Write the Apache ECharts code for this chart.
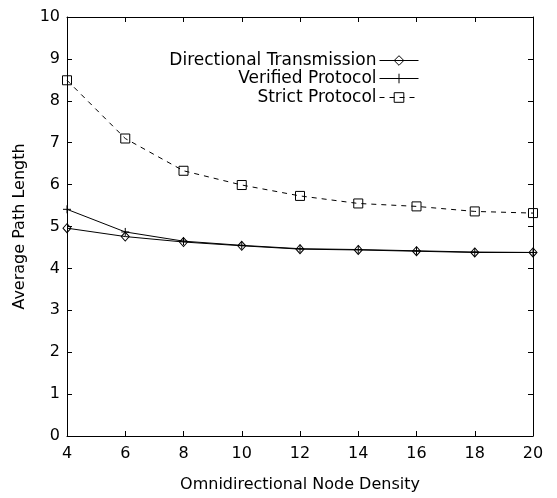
<!DOCTYPE html>
<html><head><meta charset="utf-8">
<script src="https://cdn.jsdelivr.net/npm/echarts@6/dist/echarts.min.js"></script>
<style>html,body{margin:0;padding:0;background:#fff}#c{width:557px;height:498px}</style>
</head><body><div id="c"></div>
<script>
var xValues = [4, 6, 8, 10, 12, 14, 16, 18, 20];
var directional = [4.96, 4.76, 4.63, 4.54, 4.46, 4.44, 4.41, 4.38, 4.38];
var verified = [5.41, 4.87, 4.65, 4.55, 4.47, 4.45, 4.42, 4.39, 4.38];
var strict = [8.49, 7.10, 6.33, 5.99, 5.73, 5.55, 5.48, 5.36, 5.32];
var seriesNames = ['Directional Transmission', 'Verified Protocol', 'Strict Protocol'];
var xTitle = 'Omnidirectional Node Density';
var yTitle = 'Average Path Length';

function pairs(ys){ return xValues.map(function(x,i){ return [x, ys[i]]; }); }
var FONT = 'DejaVu Sans';
var chart = echarts.init(document.getElementById('c'), null, {renderer:'canvas'});
function axisLine(){ return {show:true, onZero:false, lineStyle:{color:'#000', width:1}}; }
function tick(){ return {show:true, inside:true, length:5, lineStyle:{color:'#000', width:1}}; }
function noLabel(){ return {show:true, color:'rgba(0,0,0,0)', fontSize:1}; }
var plusPath = 'path://M0,5L10,5M5,0L5,10';
var hollow = {color:'rgba(255,255,255,0)', borderColor:'#000', borderWidth:1};
function legend(name, top){
  return {data:[name], right:138, top:top, orient:'vertical', align:'right',
    itemWidth:39, itemHeight:12, itemGap:0, padding:0,
    itemStyle:{color:'rgba(255,255,255,0)', borderColor:'#000', borderWidth:1},
    lineStyle:{color:'#000', width:1},
    textStyle:{fontFamily:FONT, fontSize:17, color:'#000', padding:[0,-2,0,0]}};
}
chart.setOption({
  animation:false,
  backgroundColor:'#fff',
  grid:{left:67, right:24, top:17, bottom:61},
  legend:[legend(seriesNames[0], 52), legend(seriesNames[1], 70), legend(seriesNames[2], 89)],
  xAxis:[{type:'value', min:4, max:20, interval:2, position:'bottom',
    axisLine:axisLine(), axisTick:tick(), splitLine:{show:false},
    axisLabel:{fontFamily:FONT, fontSize:16, color:'#000', margin:10},
    name:xTitle, nameLocation:'middle', nameGap:41,
    nameTextStyle:{fontFamily:FONT, fontSize:16, color:'#000'}},
   {type:'value', min:4, max:20, interval:2, position:'top',
    axisLine:axisLine(), axisTick:tick(), axisLabel:noLabel(), splitLine:{show:false}}],
  yAxis:[{type:'value', min:0, max:10, interval:1, position:'left',
    axisLine:axisLine(), axisTick:tick(), splitLine:{show:false},
    axisLabel:{fontFamily:FONT, fontSize:16, color:'#000', margin:7},
    name:yTitle, nameLocation:'middle', nameGap:39, nameRotate:90,
    nameTextStyle:{fontFamily:FONT, fontSize:16, color:'#000'}},
   {type:'value', min:0, max:10, interval:1, position:'right',
    axisLine:axisLine(), axisTick:tick(), axisLabel:noLabel(), splitLine:{show:false}}],
  series:[
    {name:seriesNames[0], type:'line', data:pairs(directional), symbol:'diamond', symbolSize:[8,9],
     showAllSymbol:true, lineStyle:{color:'#000', width:1}, itemStyle:hollow, z:3},
    {name:seriesNames[1], type:'line', data:pairs(verified), symbol:plusPath, symbolSize:8,
     showAllSymbol:true, lineStyle:{color:'#000', width:1}, itemStyle:hollow, z:4},
    {name:seriesNames[2], type:'line', data:pairs(strict), symbol:'rect', symbolSize:9,
     showAllSymbol:true, lineStyle:{color:'#000', width:1, type:[5,5]}, itemStyle:hollow, z:2}
  ]
});
</script></body></html>
